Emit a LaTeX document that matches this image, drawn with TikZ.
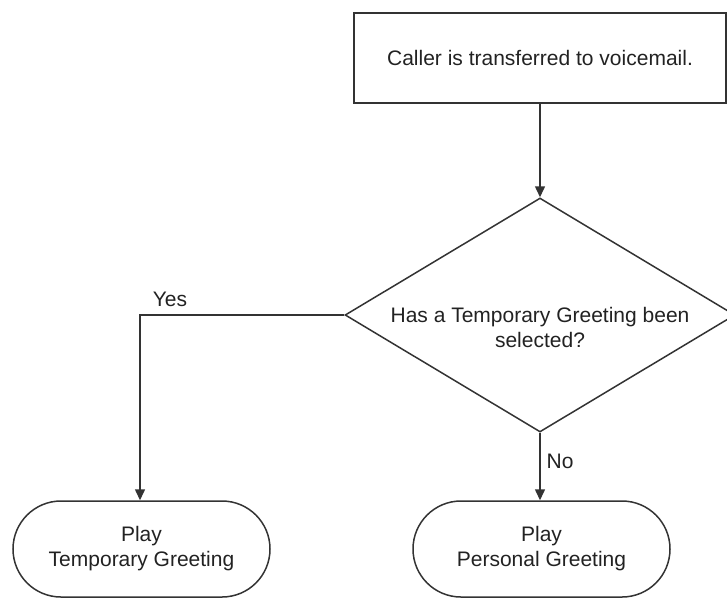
\documentclass[tikz,border=0pt]{standalone}
\usepackage{fontspec}
\setmainfont{Liberation Sans}
\usetikzlibrary{shapes.geometric,shapes.misc,arrows.meta}
\definecolor{linec}{HTML}{333333}
\definecolor{textc}{HTML}{222222}
\tikzset{
  every node/.style={font=\fontsize{21}{25}\selectfont, text=textc},
  procbox/.style={draw=linec, line width=1.5pt, rectangle, minimum width=372pt, minimum height=90pt, inner sep=0pt},
  decbox/.style={draw=linec, line width=1.5pt, diamond, minimum width=390pt, minimum height=234pt, inner sep=0pt},
  termbox/.style={draw=linec, line width=1.5pt, rounded rectangle, minimum width=257pt, minimum height=96pt, inner sep=0pt, align=center},
  conn/.style={draw=linec, line width=1.5pt, -{Triangle[length=11pt,width=10pt]}},
  lbl/.style={inner sep=0pt}
}
\begin{document}
\begin{tikzpicture}[x=1pt,y=-1pt]
\useasboundingbox (0,0) rectangle (727,598);
\node[procbox] (start) at (540,58) {Caller is transferred to voicemail.};
\node[decbox, label={[align=center, yshift=-12pt]center:Has a Temporary Greeting been\\selected?}] (dec) at (540,315) {};
\node[termbox] (temp) at (141.5,549) {Play\\Temporary Greeting};
\node[termbox] (pers) at (541.5,549) {Play\\Personal Greeting};
\coordinate (corner) at (140,315);
\draw[conn] (start.south) -- (dec.north);
\draw[conn] (dec.west) -- (corner) -- (corner |- temp.north);
\draw[conn] (dec.south) -- (dec.south |- pers.north);
\node[lbl] (yes) at (170,299) {Yes};
\node[lbl] (no) at (560,461) {No};
\end{tikzpicture}
\end{document}
